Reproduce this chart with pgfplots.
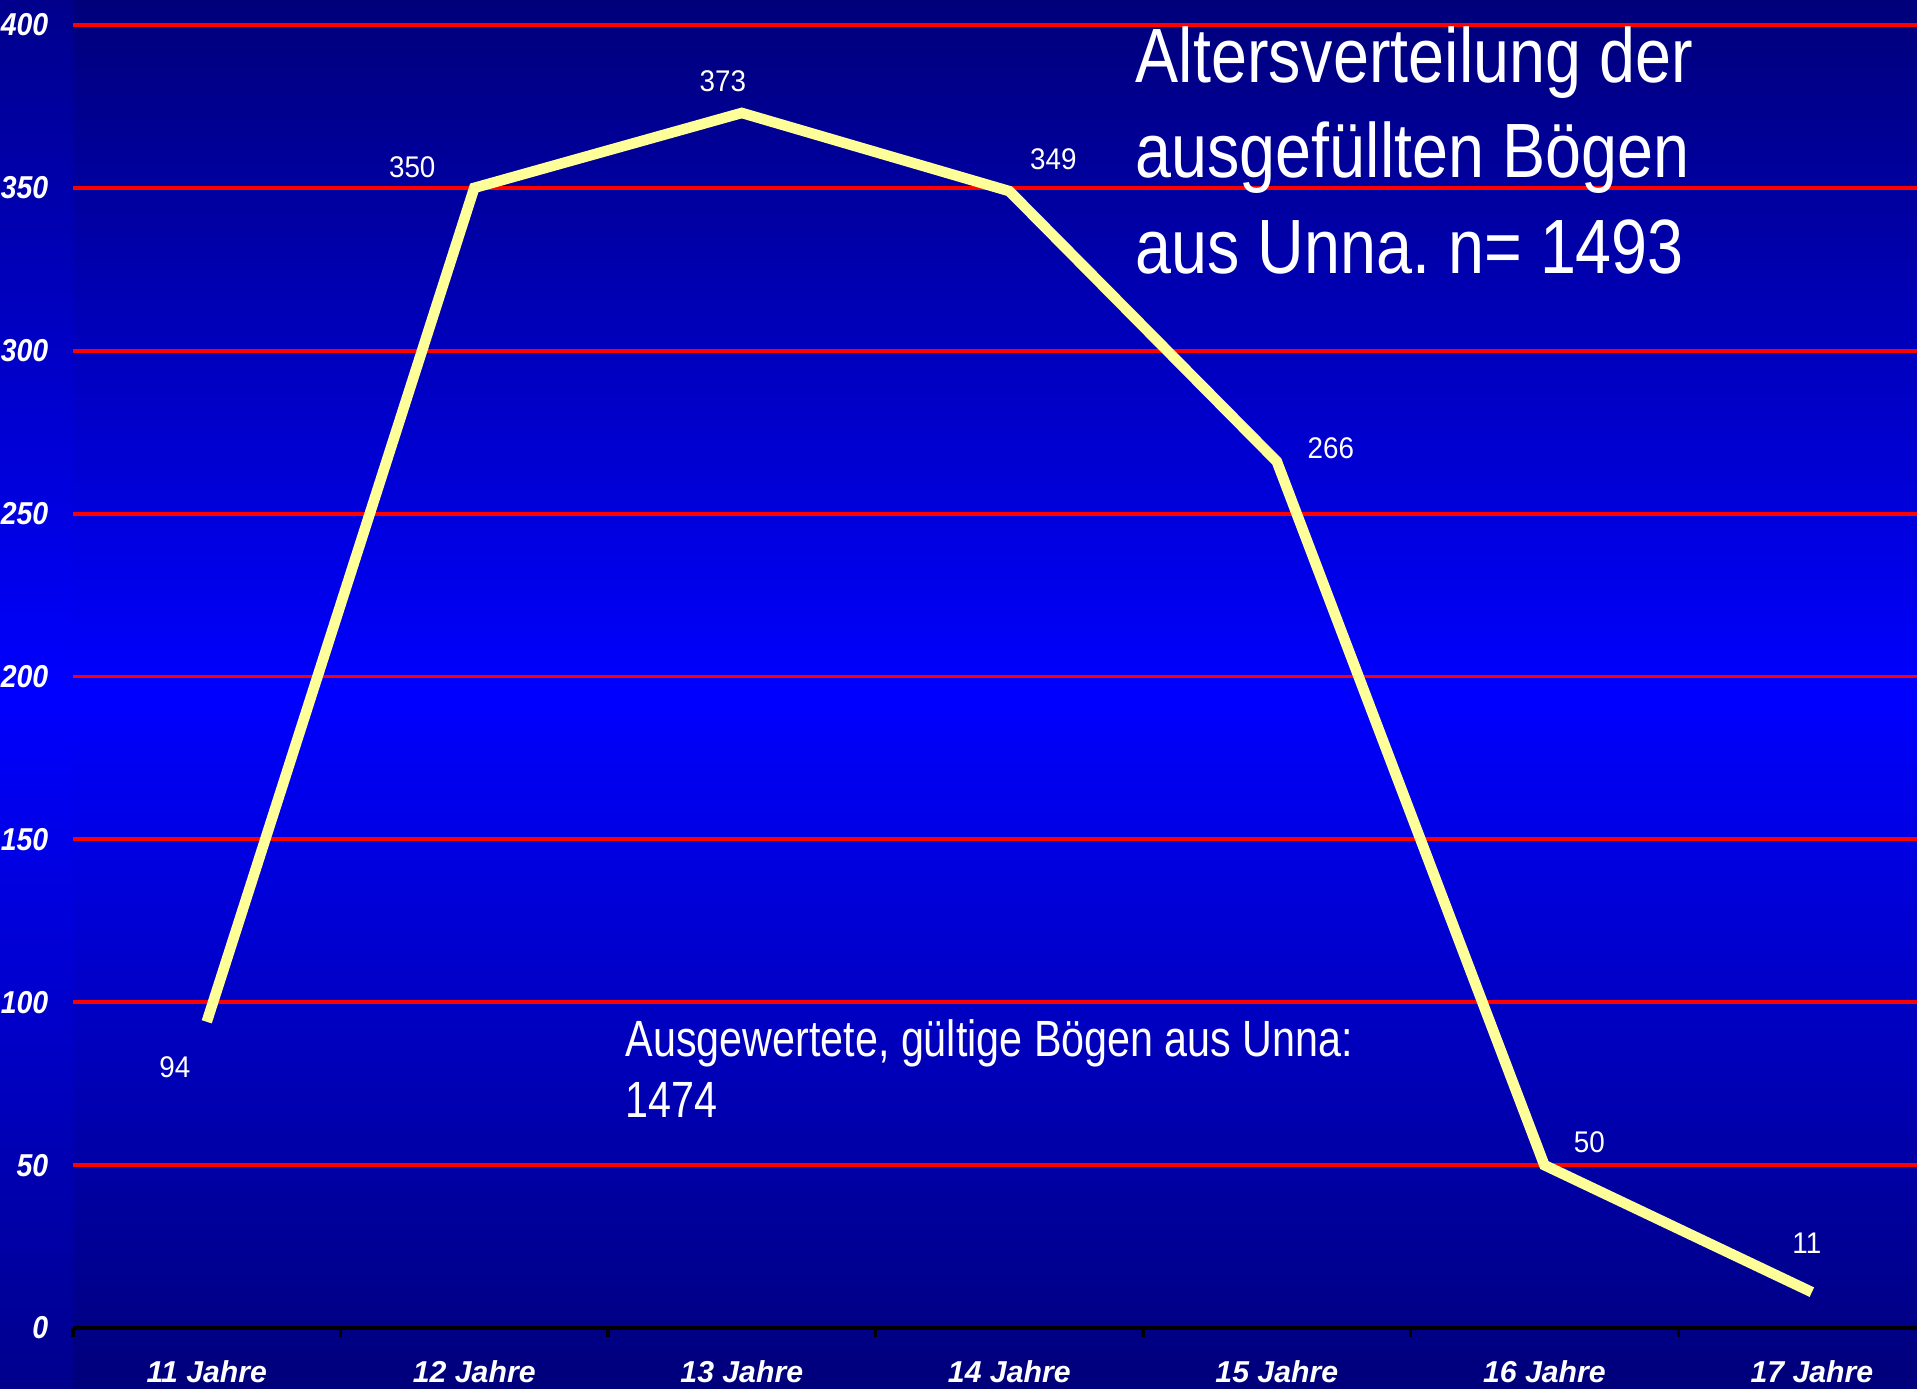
\documentclass[border=0pt]{standalone}
\usepackage{fontspec}
\setmainfont{Liberation Sans}
\newfontfamily\titlefont[FakeStretch=0.84]{Liberation Sans}
\newfontfamily\notefont[FakeStretch=0.81]{Liberation Sans}
\newfontfamily\lblfont[FakeStretch=0.93]{Liberation Sans}
\newfontfamily\tickfont[FakeStretch=0.9]{Liberation Sans}
\usepackage{pgfplots}
\pgfplotsset{compat=1.18}
\definecolor{linecol}{RGB}{255,255,153}
\definecolor{otop}{RGB}{0,0,140}
\definecolor{omid}{RGB}{0,0,255}
\definecolor{itop}{RGB}{0,0,122}
\definecolor{imid}{RGB}{0,0,255}
\definecolor{gridred}{RGB}{255,0,0}
\frenchspacing
\begin{document}
\begin{tikzpicture}[x=1cm,y=1cm]
\path[use as bounding box] (0,0) rectangle (19.17,13.89);
\clip (0,0) rectangle (19.17,13.89);
\foreach \i in {0,...,277}{
  \pgfmathsetmacro{\yy}{\i*0.05}
  \pgfmathsetmacro{\yt}{\yy+0.055}
  \pgfmathsetmacro{\p}{max(0,min(100,100*(1-abs(\yy+0.025-6.945)/6.945)))}
  \fill[imid!\p!itop] (0.73,\yy) rectangle (19.17,\yt);
  \fill[omid!\p!otop] (0,\yy) rectangle (0.73,\yt);
}
\begin{axis}[
  at={(0.73cm,0.61cm)}, anchor=south west,
  scale only axis, width=18.44cm, height=13.03cm,
  xmin=-0.5, xmax=6.393, ymin=0, ymax=400,
  axis x line*=bottom, axis y line*=left,
  x axis line style={black, line width=0.9pt, -},
  y axis line style={draw=none},
  xtick={0,...,6},
  xticklabels={11 Jahre,12 Jahre,13 Jahre,14 Jahre,15 Jahre,16 Jahre,17 Jahre},
  minor xtick={-0.5,0.5,1.5,2.5,3.5,4.5,5.5,6.5},
  tick align=outside,
  major tick length=0pt,
  minor tick length=0.09cm,
  xtick style={black, line width=0.9pt},
  minor x tick style={black, line width=0.9pt},
  ytick={50,100,...,400},
  extra y ticks={0},
  extra y tick style={grid=none},
  ytick style={draw=none},
  ymajorgrids,
  major grid style={gridred, line width=1.1pt},
  /pgf/number format/assume math mode=true,
  xticklabel style={anchor=base, inner sep=0pt, yshift=-0.55cm, text=white, font=\bfseries\itshape\fontsize{8.6}{10}\selectfont},
  yticklabel style={anchor=east, inner sep=0pt, xshift=-0.24cm, text=white, font=\tickfont\bfseries\itshape\fontsize{9}{10}\selectfont},
  clip=false,
]
\addplot[linecol, line width=3pt, line join=miter] coordinates {
  (0,94) (1,350) (2,373) (3,349) (4,266) (5,50) (6,11)
};
\tikzset{lbl/.style={text=white, inner sep=0pt, font=\lblfont\fontsize{8.5}{10}\selectfont}}
\node[lbl, xshift=-0.32cm, yshift=-0.45cm] at (axis cs:0,94) {94};
\node[lbl, xshift=-0.62cm, yshift=0.205cm] at (axis cs:1,350) {350};
\node[lbl, xshift=-0.19cm, yshift=0.32cm] at (axis cs:2,373) {373};
\node[lbl, xshift=0.44cm, yshift=0.32cm] at (axis cs:3,349) {349};
\node[lbl, xshift=0.54cm, yshift=0.13cm] at (axis cs:4,266) {266};
\node[lbl, xshift=0.45cm, yshift=0.23cm] at (axis cs:5,50) {50};
\node[lbl, xshift=-0.05cm, yshift=0.49cm] at (axis cs:6,11) {11};
\end{axis}
\begin{scope}[every node/.style={anchor=base west, inner sep=0pt, text=white}]
\node[font=\titlefont\fontsize{21.9}{26}\selectfont] at (11.35,13.06) {Altersverteilung der};
\node[font=\titlefont\fontsize{21.9}{26}\selectfont] at (11.35,12.11) {ausgefüllten Bögen};
\node[font=\titlefont\fontsize{21.9}{26}\selectfont] at (11.35,11.15) {aus Unna. n= 1493};
\node[font=\notefont\fontsize{14.5}{17}\selectfont] at (6.25,3.32) {Ausgewertete, gültige Bögen aus Unna:};
\node[font=\notefont\fontsize{14.5}{17}\selectfont] at (6.25,2.71) {1474};
\end{scope}
\end{tikzpicture}
\end{document}
